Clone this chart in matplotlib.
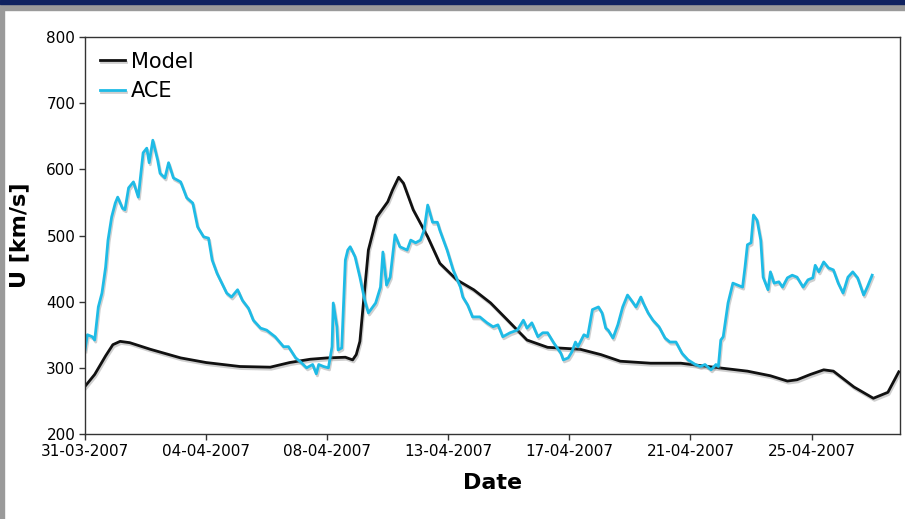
import matplotlib.pyplot as plt
import matplotlib.patheffects as pe
from matplotlib.patches import Rectangle

# hours since 31-03-2007 12:00, speeds in km/s
model_t = [0, 8, 17, 23, 29, 37, 54, 79, 100, 128, 153, 169, 186, 200, 215, 221,
           224, 227, 230, 234, 241, 250, 254, 259, 263, 271, 283, 293, 307, 321,
           335, 349, 365, 382, 409, 426, 442, 467, 492, 519, 547, 566, 580, 588,
           599, 610, 618, 635, 651, 663, 672]
model_u = [272, 290, 318, 335, 340, 338, 328, 315, 308, 302, 301, 308, 313, 315, 316, 312,
           320, 340, 400, 478, 528, 551, 569, 588, 579, 539, 498, 458, 433, 418,
           398, 372, 342, 331, 328, 320, 310, 307, 307, 301, 295, 288, 280, 282,
           290, 297, 295, 271, 254, 263, 294]

ace_t = [0, 2, 6, 8, 11, 14, 17, 19, 22, 25, 27, 31, 33, 36, 40, 44, 48, 51, 53, 56,
         60, 62, 66, 69, 73, 79, 84, 89, 93, 98, 102, 105, 109, 113, 117, 121, 126, 130,
         135, 139, 145, 150, 157, 164, 168, 174, 178, 183, 188, 191, 193, 197, 201, 204,
         205, 208, 209, 212, 215, 217, 219, 223, 227, 231, 234, 240, 244, 246, 249, 252,
         256, 260, 266, 269, 273, 277, 280, 283, 287, 291, 293, 299, 304, 310, 312, 316,
         320, 326, 332, 337, 341, 345, 351, 357, 362, 365, 369, 374, 378, 382, 387, 393,
         395, 399, 402, 405, 407, 412, 415, 419, 424, 427, 430, 432, 436, 440, 444, 448,
         452, 455, 459, 461, 465, 469, 474, 479, 483, 488, 493, 498, 504, 508, 512, 517,
         521, 523, 525, 527, 531, 535, 539, 543, 545, 547, 550, 552, 555, 558, 560, 564,
         566, 569, 573, 576, 580, 584, 588, 593, 597, 601, 603, 606, 610, 614, 618, 622,
         626, 630, 634, 638, 643, 646, 650]
ace_u = [327, 350, 347, 342, 392, 413, 452, 493, 528, 549, 558, 541, 539, 572, 581, 558, 625, 632, 610, 644,
         614, 594, 587, 610, 587, 581, 557, 549, 513, 498, 496, 463, 443, 428, 413, 407, 418, 402,
         390, 372, 360, 357, 347, 332, 332, 315, 309, 300, 305, 291, 305, 302, 300, 332,
         398, 362, 327, 330, 463, 478, 483, 468, 437, 402, 383, 398, 422, 475, 425, 437,
         501, 483, 478, 493, 489, 493, 508, 546, 520, 520, 508, 478, 448, 422, 407, 395,
         377, 377, 368, 362, 365, 347, 353, 357, 372, 360, 368, 347, 353, 353, 338, 322,
         312, 315, 324, 339, 332, 350, 347, 388, 392, 383, 360, 357, 345, 365, 392, 410,
         400, 392, 407, 398, 383, 372, 362, 345, 339, 339, 322, 312, 305, 302, 305, 297,
         305, 302, 342, 347, 398, 428, 425, 422, 452, 486, 489, 531, 523, 493, 437, 418,
         445, 428, 430, 422, 436, 440, 437, 422, 433, 436, 455, 445, 460, 451, 448, 428,
         413, 437, 445, 436, 410, 422, 440]

tick_pos = [0, 100, 200, 300, 400, 500, 600]
tick_labels = ['31-03-2007', '04-04-2007', '08-04-2007', '13-04-2007',
               '17-04-2007', '21-04-2007', '25-04-2007']

fig = plt.figure(figsize=(9.05, 5.19), dpi=100)
ax = fig.add_axes([85 / 905, 85 / 519, 815 / 905, 397 / 519])

# window frame around the slide
fig.patches.append(Rectangle((0, 0), 4 / 905, 1, transform=fig.transFigure,
                             color='#9a9a9a', zorder=0))
fig.patches.append(Rectangle((0, 1 - 10 / 519), 1, 10 / 519, transform=fig.transFigure,
                             color='#9a9a9a', zorder=0))
fig.patches.append(Rectangle((0, 1 - 3.5 / 519), 1, 3.5 / 519, transform=fig.transFigure,
                             color='#0f2260', zorder=0))

shadow = [pe.SimpleLineShadow(offset=(0.8, -1.5), shadow_color='#777777', alpha=0.35),
          pe.Normal()]
ax.plot(model_t, model_u, color='#111111', lw=2.0, label='Model',
        path_effects=shadow, solid_joinstyle='round')
ax.plot(ace_t, ace_u, color='#1ebbe6', lw=2.0, label='ACE',
        path_effects=shadow, solid_joinstyle='round')

ax.set_xlim(0, 673)
ax.set_ylim(200, 800)
ax.set_yticks(range(200, 801, 100))
ax.set_xticks(tick_pos)
ax.set_xticklabels(tick_labels)
ax.tick_params(labelsize=11, length=4, width=1, color='#333333', pad=3)
for s in ax.spines.values():
    s.set_color('#333333')
    s.set_linewidth(1)

ax.set_xlabel('Date', fontsize=16, fontweight='bold', labelpad=10)
ax.set_ylabel('U [km/s]', fontsize=16, fontweight='bold', labelpad=12)

ax.legend(loc='upper left', frameon=False, fontsize=15, handlelength=1.2,
          handletextpad=0.3, labelspacing=0.45, borderaxespad=0.3,
          bbox_to_anchor=(0.0, 1.0))

fig.savefig('out.png', dpi=100)
